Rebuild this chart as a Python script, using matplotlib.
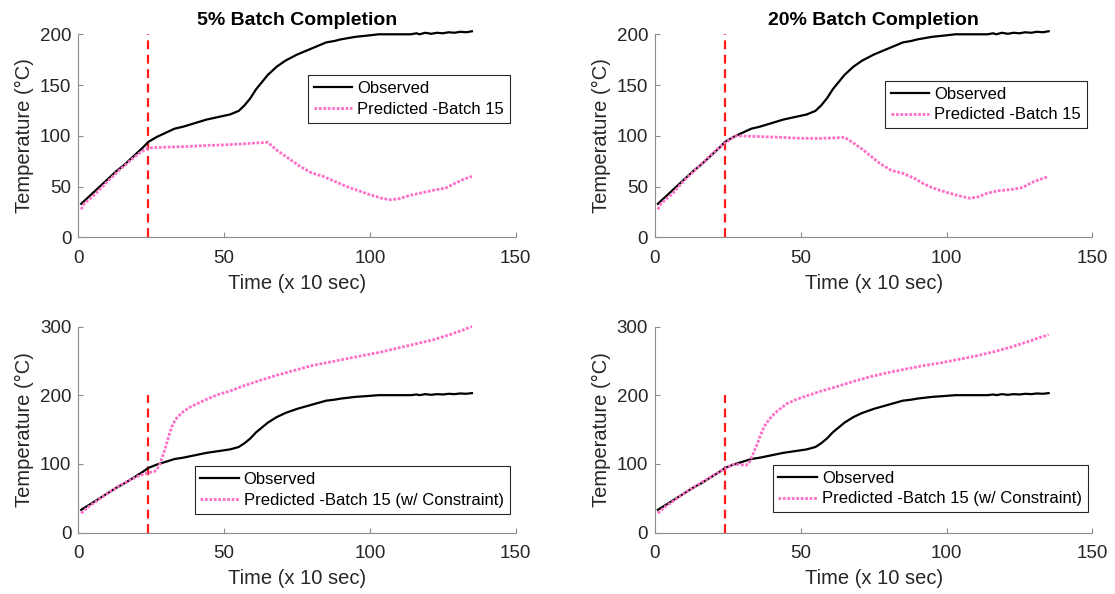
import matplotlib
matplotlib.use("Agg")
import matplotlib.pyplot as plt

plt.rcParams['font.family'] = ['Liberation Sans', 'DejaVu Sans']

# Observed temperature profile (shared by all panels)
t_obs = [1, 4, 7, 10, 13, 16, 19, 22, 24, 27, 30, 33, 36, 40, 44, 48, 52, 55, 57, 59,
         61, 63, 65, 68, 71, 75, 80, 85, 88, 90, 95, 100, 103, 107, 111, 114, 116, 117,
         119, 121, 123, 125, 127, 129, 131, 133, 135]
T_obs = [33, 41, 49, 57, 65, 72, 80, 88, 94, 99, 103, 107, 109, 112.5, 116, 118.5, 121,
         124.5, 130, 137, 146, 153, 160, 168, 174, 180, 186, 192, 193.5, 195, 197.5, 199,
         200, 200, 200, 200, 201, 200, 201.5, 200.5, 201.5, 201, 202, 201.5, 202.5, 202,
         203]

# Predictions at 5% batch completion
t_p5 = [1, 2, 6, 10, 14, 18, 21, 24, 27, 32, 38, 44, 50, 56, 61, 65, 68, 72, 76, 80,
        84, 88, 92, 96, 100, 104, 107, 110, 114, 118, 122, 126, 129, 132, 135]
T_p5 = [27.5, 33, 43, 55, 66, 76, 83, 88, 88.5, 89, 89.5, 90.5, 91, 92, 93, 93.5, 86,
        78, 70, 63.5, 60, 55, 50, 46, 42, 38.5, 37, 38, 41.5, 44, 46.5, 48.5, 53, 57, 60]

# Predictions at 20% batch completion
t_p20 = [1, 2, 6, 10, 14, 18, 21, 24, 26, 28, 33, 38, 43, 50, 57, 62, 65, 68, 71, 74,
         77, 81, 85, 89, 92, 95, 98, 101, 104, 108, 111, 114, 118, 122, 126, 130, 133, 135]
T_p20 = [27.5, 33, 43, 56, 67, 78, 86, 93, 97, 100, 99.5, 99, 98.5, 97.5, 97.5, 98,
         98.5, 93, 87, 80, 73, 66, 63, 58, 53, 49, 46, 43.5, 41, 38.5, 40, 43.5, 46, 47,
         49, 55, 58, 60]

# Constrained predictions at 5% batch completion
t_c5 = [1, 3, 6, 10, 14, 18, 21, 24, 26, 27, 28, 29, 30, 31, 32, 33, 34, 36, 38, 41,
        44, 48, 52, 57, 62, 68, 74, 80, 86, 92, 98, 104, 110, 116, 122, 128, 132, 135]
T_c5 = [28, 36, 45, 57, 68, 77, 83, 87, 88.5, 92, 100, 112, 125, 140, 153, 162, 168,
        176, 182, 188, 194, 201, 206, 214, 221, 229, 236, 243, 248, 253, 258, 263, 269,
        275, 281, 289, 295, 300]

# Constrained predictions at 20% batch completion
t_c20 = [1, 3, 6, 10, 14, 18, 21, 24, 27, 29, 31, 32, 33, 34, 35, 36, 37, 38, 40, 42,
         45, 48, 52, 57, 62, 68, 74, 80, 86, 92, 98, 104, 110, 116, 122, 128, 132, 135]
T_c20 = [28, 36, 45, 57, 68, 78, 86, 93, 99.5, 99, 98, 99.5, 108, 118, 128, 140, 150,
         158, 169, 177, 187, 193, 199, 206, 212, 220, 227, 233, 238, 243, 247, 252, 257,
         263, 270, 278, 284, 288]

# Prediction start marker
t_cut = 24
cut_range = [0, 200]

titles = ["5% Batch Completion", "20% Batch Completion"]
pred_label = "Predicted -Batch 15"
pred_label_c = "Predicted -Batch 15 (w/ Constraint)"

PINK = "#ff6ec7"
TXT = "#262626"
AX = "#8c8c8c"

W, H = 1115, 594
fig = plt.figure(figsize=(W / 100, H / 100), dpi=100)

lefts = [78.3 / W, 655 / W]
width = 437.4 / W
rows = [((594 - 237.3) / H, 203 / H), ((594 - 532.5) / H, 206 / H)]

panels = [
    (0, 0, t_p5, T_p5, pred_label, (0.986, 0.798), "upper right"),
    (0, 1, t_p20, T_p20, pred_label, (0.987, 0.771), "upper right"),
    (1, 0, t_c5, T_c5, pred_label_c, (0.986, 0.09), "lower right"),
    (1, 1, t_c20, T_c20, pred_label_c, (0.989, 0.098), "lower right"),
]

for r, c, tp, Tp, lab, anchor, loc in panels:
    b, h = rows[r]
    ax = fig.add_axes([lefts[c], b, width, h])
    ax.plot(t_obs, T_obs, color="black", lw=1.6, label="Observed", zorder=3,
            clip_on=False)
    ax.plot(tp, Tp, color=PINK, lw=2.0, linestyle=(0, (1, 0.6)), label=lab, zorder=4,
            clip_on=False)
    ax.plot([t_cut, t_cut], cut_range, color="#ff1a1a", lw=1.6,
            linestyle=(0, (4, 2.5)), zorder=2)
    ax.set_xlim(0, 150)
    ax.set_xticks([0, 50, 100, 150])
    if r == 0:
        ax.set_ylim(0, 200)
        ax.set_yticks([0, 50, 100, 150, 200])
        ax.set_title(titles[c], fontsize=14, fontweight="bold", color="black", pad=7)
    else:
        ax.set_ylim(0, 300)
        ax.set_yticks([0, 100, 200, 300])
    for s in ("top", "right"):
        ax.spines[s].set_visible(False)
    for s in ("left", "bottom"):
        ax.spines[s].set_color(AX)
        ax.spines[s].set_linewidth(0.8)
    ax.tick_params(direction="in", length=3.5, width=0.8, color=AX,
                   labelsize=13.5, labelcolor=TXT)
    ax.tick_params(axis="x", pad=9)
    ax.tick_params(axis="y", pad=5)
    ax.set_xlabel("Time (x 10 sec)", fontsize=14.5, color=TXT, labelpad=5)
    ax.set_ylabel("Temperature (°C)", fontsize=14.5, color=TXT, labelpad=4)
    leg = ax.legend(loc=loc, bbox_to_anchor=anchor, fontsize=12, fancybox=False,
                    framealpha=1, edgecolor="#262626", handlelength=2.3,
                    handletextpad=0.3, borderpad=0.35, labelspacing=0.35,
                    borderaxespad=0)
    leg.get_frame().set_linewidth(0.8)
    for txt in leg.get_texts():
        txt.set_color("black")

fig.savefig("out.png", dpi=100)
